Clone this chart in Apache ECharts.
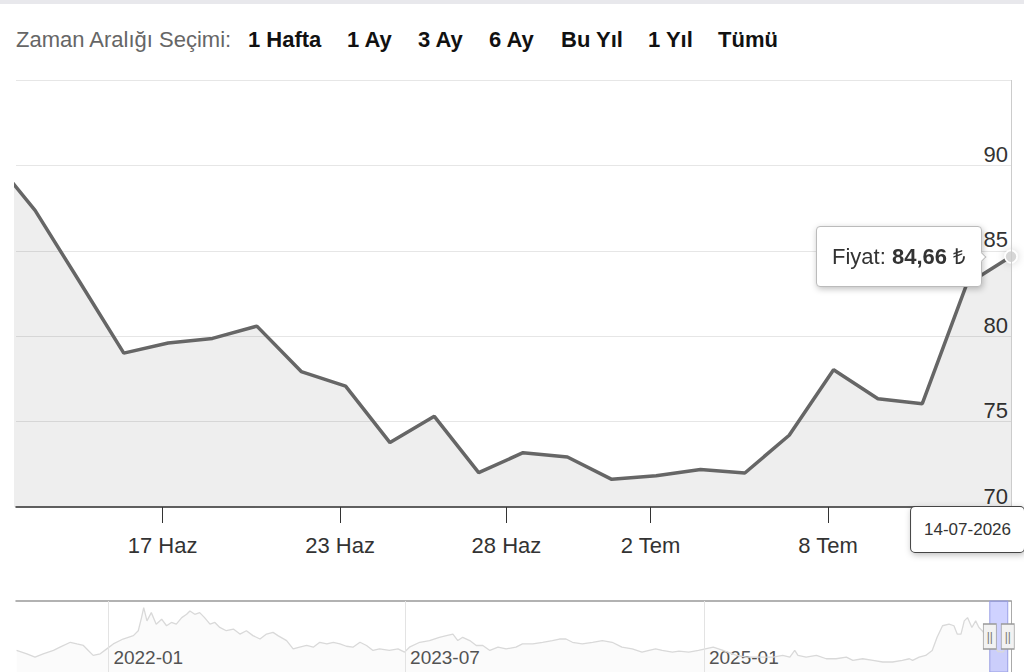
<!DOCTYPE html>
<html><head><meta charset="utf-8">
<script src="https://cdn.jsdelivr.net/npm/echarts@6/dist/echarts.min.js"></script>
<style>
html,body{margin:0;padding:0;background:#fff;}
#c{width:1024px;height:672px;}
#strip{position:absolute;left:0;top:0;width:1024px;height:4px;background:#e8e8ec;z-index:5;}
</style>
</head><body><div id="strip"></div><div id="c"></div>
<script>
// ---- data ----
const dates = ['2026-06-11','2026-06-12','2026-06-15','2026-06-16','2026-06-17','2026-06-18','2026-06-19',
  '2026-06-22','2026-06-23','2026-06-24','2026-06-25','2026-06-26','2026-06-29','2026-06-30',
  '2026-07-01','2026-07-02','2026-07-03','2026-07-06','2026-07-07','2026-07-08','2026-07-09',
  '2026-07-10','2026-07-13','2026-07-14'];
const prices = [90.54,87.37,83.2,79.01,79.60,79.87,80.59,77.93,77.08,73.77,75.31,72.01,73.18,72.93,
  71.62,71.83,72.19,71.99,74.20,78.04,76.34,76.05,83.03,84.66];
const tickDates = ['2026-06-17','2026-06-23','2026-06-28','2026-07-02','2026-07-08'];
const tickLabels = ['17 Haz','23 Haz','28 Haz','2 Tem','8 Tem'];
const rangeLabel = 'Zaman Aralığı Seçimi:';
const rangeButtons = ['1 Hafta','1 Ay','3 Ay','6 Ay','Bu Yıl','1 Yıl','Tümü'];
const seriesName = 'Fiyat';
const currency = '₺';
const navDates = ['2021-07-16','2021-08-04','2021-08-19','2021-09-03','2021-09-22','2021-10-04','2021-10-23',
  '2021-11-04','2021-11-16','2021-11-25','2021-12-04','2021-12-17','2021-12-29','2022-01-10','2022-01-28',
  '2022-02-16','2022-02-25','2022-03-03','2022-03-07','2022-03-13','2022-03-21','2022-03-30','2022-04-09',
  '2022-04-18','2022-04-27','2022-05-06','2022-05-16','2022-05-25','2022-05-31','2022-06-09','2022-06-18',
  '2022-06-27','2022-07-07','2022-07-16','2022-07-25','2022-08-06','2022-08-19','2022-08-31','2022-09-12',
  '2022-09-24','2022-10-07','2022-10-19','2022-10-31','2022-11-09','2022-11-25','2022-12-07','2022-12-19',
  '2023-01-01','2023-01-13','2023-01-25','2023-02-07','2023-02-19','2023-03-03','2023-03-15','2023-03-27',
  '2023-04-09','2023-04-21','2023-05-03','2023-05-15','2023-06-02','2023-06-18','2023-06-30','2023-07-09',
  '2023-07-28','2023-08-15','2023-09-02','2023-09-15','2023-09-27','2023-10-06','2023-10-15','2023-10-28',
  '2023-11-09','2023-11-21','2023-12-04','2023-12-19','2024-01-03','2024-01-21','2024-02-02','2024-02-21',
  '2024-03-10','2024-03-28','2024-04-10','2024-04-22','2024-05-04','2024-05-22','2024-06-10','2024-06-28',
  '2024-07-16','2024-08-03','2024-08-22','2024-09-09','2024-09-22','2024-10-04','2024-10-16','2024-11-04',
  '2024-11-16','2024-12-04','2024-12-22','2025-01-18','2025-02-05','2025-03-02','2025-03-20','2025-04-14',
  '2025-05-08','2025-05-26','2025-06-08','2025-06-17','2025-06-23','2025-07-08','2025-07-27','2025-08-14',
  '2025-09-01','2025-09-20','2025-10-02','2025-10-20','2025-11-08','2025-11-26','2025-12-14','2026-01-01',
  '2026-01-14','2026-01-20','2026-02-01','2026-02-13','2026-02-25','2026-03-06','2026-03-16','2026-03-28',
  '2026-04-06','2026-04-12','2026-04-19','2026-04-25','2026-05-01','2026-05-09','2026-05-16','2026-05-22',
  '2026-05-28','2026-06-04'];
const navValues = [74.3,68.9,63.8,68.9,74.3,79.5,87.3,84.7,82.2,74.3,66.4,68.9,76.8,84.7,92.5,
  97.9,105.7,126.6,142.4,121.4,134.5,116.1,124,113.6,118.8,116.1,126.6,131.8,137.2,131.8,134.5,
  126.6,116.1,118.8,110.9,105.7,108.3,100.4,105.7,97.9,92.5,100.4,103,97.9,90,76.8,79.5,
  82.2,79.5,87.3,84.7,87.3,84.7,81,79.5,87.3,82.2,74.3,76.8,74.3,76.8,71.6,79.5,
  87.3,90,95.2,97.9,100.4,90,95.2,90,82.2,82.2,74.3,79.5,76.8,79.5,84.7,84.7,
  87.3,90,92.5,92.5,87.3,84.7,87.3,90,87.3,79.5,76.8,71.6,74.3,76.8,74.3,71.6,
  73.2,71.6,74.3,79.5,74.3,66.4,63.8,63.8,63.8,66.4,63.8,74.3,66.4,63.8,66.4,61.1,
  61.1,63.8,58.6,61.1,58.6,55.9,55.9,58.6,61.1,58.6,63.8,66.4,74.3,95.2,113.6,116.1,
  113.6,100.4,100.4,121.4,126.6,110.9,121.4,110.9,105.7,98.3];
const navTickDates = ['2022-01-01','2023-07-01','2025-01-01'];
const navStart = '2021-07-15';
const navEnd = '2026-07-20';

// ---- helpers ----
const FONT = "'Liberation Sans', Arial, Helvetica, sans-serif";
const HOUR = 3600000;
const ts = s => { const [y,m,d] = s.split('-').map(Number); return Date.UTC(y, m-1, d); };
const pointTs = dates.map(d => ts(d) + 3*HOUR); // data timestamps (03:00 local)
function ordinalPos(t){
  for (let i = 0; i < pointTs.length - 1; i++) {
    if (t >= pointTs[i] && t < pointTs[i+1]) return i + (t - pointTs[i]) / (pointTs[i+1] - pointTs[i]);
  }
  return null;
}
const tickPos = tickDates.map(d => ordinalPos(ts(d)));
const last = dates.length - 1;
const fmtDMY = s => { const [y,m,d] = s.split('-'); return d + '-' + m + '-' + y; };
const mainData = prices.map((p, i) => [i, p]);
const navData = navDates.map((d, i) => [ts(d), navValues[i]]).concat(dates.map((d, i) => [ts(d), prices[i]]));
const navTickTs = navTickDates.map(ts);
const navMin = 40, navMax = 153, navMid = (navMin + navMax) / 2;
const btnX = [248, 347, 418, 489, 561, 648, 718];
const nearestIdx = (arr, v) => { let j = 0, best = Infinity; arr.forEach((p, k) => { if (Math.abs(p - v) < best) { best = Math.abs(p - v); j = k; } }); return j; };

const chart = echarts.init(document.getElementById('c'), null, {renderer: 'svg'});
const option = {
  animation: false,
  textStyle: {fontFamily: FONT},
  graphic: [
    {type: 'text', x: 16, y: 39, style: {text: rangeLabel, fontSize: 22, fontFamily: FONT, fill: '#666', verticalAlign: 'middle'}}
  ].concat(rangeButtons.map((b, i) => ({
    type: 'text', x: btnX[i], y: 39,
    style: {text: b, fontSize: 22, fontWeight: 'bold', fontFamily: FONT, fill: '#111', verticalAlign: 'middle'}
  }))),
  grid: [
    {left: 16, right: 13, top: 80, bottom: 165},
    {left: 16, right: 13, top: 601, height: 72}
  ],
  xAxis: [
    {
      gridIndex: 0, type: 'value', min: 0.57, max: last,
      axisLine: {show: true, lineStyle: {color: '#333', width: 1.5}},
      axisTick: {show: true, customValues: tickPos, length: 16, lineStyle: {color: '#333', width: 1}},
      axisLabel: {
        customValues: tickPos, fontSize: 22, color: '#333', margin: 27, fontFamily: FONT,
        formatter: v => tickLabels[nearestIdx(tickPos, v)]
      },
      splitLine: {show: false},
      axisPointer: {
        show: true, status: 'show', value: last, type: 'line', snap: false, triggerTooltip: false,
        lineStyle: {color: '#cccccc', width: 1, type: 'solid'},
        label: {
          show: true, margin: 0, formatter: p => fmtDMY(dates[Math.round(p.value)]),
          backgroundColor: '#fff', borderColor: '#444', borderWidth: 1, borderRadius: 4,
          color: '#333', fontSize: 17, fontFamily: FONT, padding: [14, 13],
          shadowBlur: 6, shadowColor: 'rgba(0,0,0,0.25)', shadowOffsetX: 1, shadowOffsetY: 2
        }
      }
    },
    {
      gridIndex: 1, type: 'value', min: ts(navStart), max: ts(navEnd),
      axisLine: {show: false}, axisTick: {show: false},
      axisLabel: {
        customValues: navTickTs, inside: true, align: 'left', padding: [0, 0, 0, 5], margin: 5,
        fontSize: 19, color: '#555', fontFamily: FONT,
        formatter: v => { const d = new Date(navTickTs[nearestIdx(navTickTs, v)]); return d.getUTCFullYear() + '-' + String(d.getUTCMonth() + 1).padStart(2, '0'); }
      },
      splitLine: {show: false}
    },
    {
      gridIndex: 1, type: 'value', position: 'top', min: ts(navStart), max: ts(navEnd),
      axisLine: {show: true, lineStyle: {color: '#999', width: 1.5}},
      axisTick: {show: false}, axisLabel: {show: false}, splitLine: {show: false}
    }
  ],
  yAxis: [
    {
      gridIndex: 0, type: 'value', position: 'right', min: 70, max: 95, interval: 5,
      axisLine: {show: false}, axisTick: {show: false},
      axisLabel: {inside: true, margin: 3, fontSize: 22, color: '#333', verticalAlign: 'bottom', showMaxLabel: false, fontFamily: FONT},
      splitLine: {lineStyle: {color: '#e6e6e6', width: 1}}
    },
    {
      gridIndex: 1, type: 'value', position: 'right', min: navMin, max: navMax,
      axisLine: {show: true, lineStyle: {color: '#aaa', width: 1}},
      axisTick: {show: false}, axisLabel: {show: false}, splitLine: {show: false}
    }
  ],
  tooltip: {
    trigger: 'item', triggerOn: 'none', position: 'left', confine: false, alwaysShowContent: true,
    backgroundColor: '#fff', borderColor: '#bbb', borderWidth: 1, padding: [13, 15],
    textStyle: {fontSize: 22, color: '#333', fontFamily: FONT},
    extraCssText: 'border-radius:4px;box-shadow:1px 2px 6px rgba(0,0,0,0.25);margin-left:-12px;',
    formatter: p => seriesName + ': <b>' + p.value[1].toFixed(2).replace('.', ',') + '</b> ' + currency
  },
  series: [
    {
      type: 'line', name: seriesName, xAxisIndex: 0, yAxisIndex: 0, data: mainData,
      lineStyle: {color: '#666', width: 3.5},
      areaStyle: {color: 'rgba(0,0,0,0.067)', opacity: 1},
      itemStyle: {color: '#d6d6d6', borderColor: '#fff', borderWidth: 1.5, shadowBlur: 8, shadowColor: 'rgba(0,0,0,0.18)'},
      showSymbol: true, showAllSymbol: true,
      symbol: (v, p) => p.dataIndex === last ? 'circle' : 'none', symbolSize: 12,
      emphasis: {disabled: true}, z: 3
    },
    {
      type: 'line', xAxisIndex: 1, yAxisIndex: 1, data: navData, symbol: 'none', silent: true,
      tooltip: {show: false},
      lineStyle: {color: '#d9d9d9', width: 1.3},
      areaStyle: {color: 'rgba(0,0,0,0.02)'},
      markLine: {
        silent: true, symbol: 'none', label: {show: false},
        lineStyle: {color: '#e3e3e3', type: 'solid', width: 1},
        data: navTickTs.map(t => ({xAxis: t}))
      },
      markArea: {
        silent: true,
        itemStyle: {color: 'rgba(110,118,255,0.33)', borderColor: '#9aa0e6', borderWidth: 1},
        data: [[{xAxis: ts(dates[0])}, {xAxis: ts(dates[last])}]]
      },
      markPoint: {
        silent: true, symbol: 'rect', symbolSize: [13, 25],
        itemStyle: {color: '#f2f2f2', borderColor: '#999', borderWidth: 1},
        label: {show: true, position: 'inside', formatter: '||', color: '#777', fontSize: 12, fontFamily: FONT},
        data: [{coord: [ts(dates[0]), navMid]}, {coord: [ts(dates[last]), navMid]}]
      }
    }
  ]
};
chart.setOption(option);
chart.dispatchAction({type: 'showTip', seriesIndex: 0, dataIndex: last});
</script>
</body></html>
